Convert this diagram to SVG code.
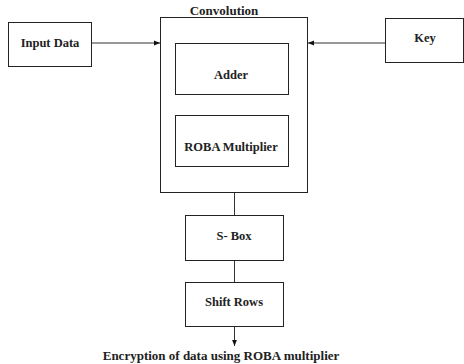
<svg xmlns="http://www.w3.org/2000/svg" width="464" height="364" viewBox="0 0 464 364">
<defs>
<style>
.box{fill:#fff;stroke:#222;stroke-width:1}
.con{stroke:#333;stroke-width:1;fill:none}
</style>
<marker id="ah" viewBox="0 0 10 10" refX="10" refY="5" markerWidth="6" markerHeight="6" orient="auto-start-reverse">
<path d="M0,1 L10,5 L0,9 z" fill="#111"/>
</marker>
</defs>
<rect width="464" height="364" fill="#fff"/>
<g font-family="Liberation Serif" font-size="12.5" font-weight="bold" fill="#222" text-anchor="middle">
<g id="convolution">
<rect class="box" x="160.5" y="17.5" width="147" height="175"/>
<text x="224" y="15" font-size="13">Convolution</text>
</g>
<g id="adder">
<rect class="box" x="175.5" y="43.5" width="113" height="51"/>
<text x="231" y="79">Adder</text>
</g>
<g id="roba">
<rect class="box" x="175.5" y="115.5" width="113" height="51"/>
<text x="231" y="151">ROBA Multiplier</text>
</g>
<g id="input">
<rect class="box" x="8.5" y="22.5" width="83" height="44"/>
<text x="50" y="47">Input Data</text>
</g>
<g id="key">
<rect class="box" x="385.5" y="18.5" width="78" height="44"/>
<text x="425" y="42">Key</text>
</g>
<g id="sbox">
<rect class="box" x="185.5" y="215.5" width="98" height="45"/>
<text x="234" y="240">S- Box</text>
</g>
<g id="shiftrows">
<rect class="box" x="185.5" y="282.5" width="98" height="44"/>
<text x="234" y="306">Shift Rows</text>
</g>
<text x="221" y="360" font-size="13">Encryption of data using ROBA multiplier</text>
</g>
<g id="connectors">
<line class="con" x1="92" y1="43" x2="160" y2="43" marker-end="url(#ah)"/>
<line class="con" x1="385" y1="43" x2="308" y2="43" marker-end="url(#ah)"/>
<line class="con" x1="234.5" y1="193" x2="234.5" y2="215"/>
<line class="con" x1="234.5" y1="261" x2="234.5" y2="282"/>
<line class="con" x1="234.5" y1="327" x2="234.5" y2="346" marker-end="url(#ah)"/>
</g>
</svg>
